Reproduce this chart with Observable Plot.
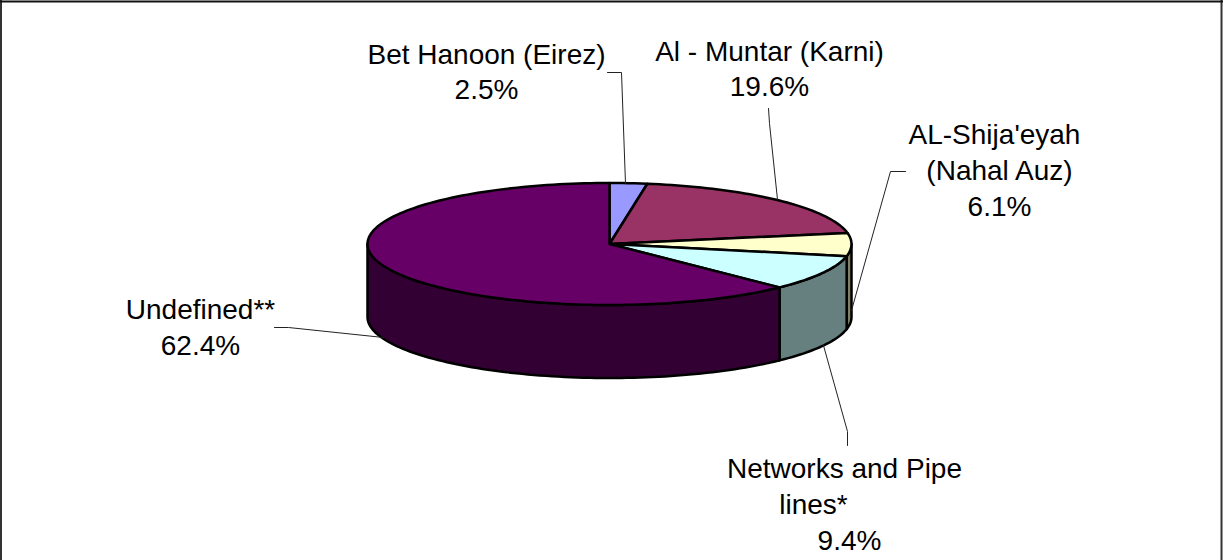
<!DOCTYPE html>
<html>
<head>
<meta charset="utf-8">
<script src="https://cdn.jsdelivr.net/npm/d3@7"></script>
<script src="https://cdn.jsdelivr.net/npm/@observablehq/plot@0.6"></script>
<style>html,body{margin:0;padding:0;background:#fff}svg{display:block}</style>
</head>
<body>
<div id="chart"></div>
<script>
// Data (clockwise from 12 o'clock)
const sliceNames = ["Bet Hanoon (Eirez)", "Al - Muntar (Karni)", "AL-Shija'eyah (Nahal Auz)", "Networks and Pipe lines*", "Undefined**"];
const sliceValues = [2.5, 19.6, 6.1, 9.4, 62.4];
const topColors = ["#9999FF", "#993366", "#FFFFCC", "#CCFFFF", "#660066"];
const sideColors = ["#4D4D80", "#4D1A33", "#808066", "#668080", "#330033"];

// Label text lines, one per row; the percentage rows are formatted from sliceValues
const fmt = v => d3.format(".1f")(v) + "%";
const labelLines = ["Bet Hanoon (Eirez)", fmt(sliceValues[0]), "Al - Muntar (Karni)", fmt(sliceValues[1]), "AL-Shija'eyah", "(Nahal Auz)", fmt(sliceValues[2]), "Networks and Pipe", "lines*", fmt(sliceValues[3]), "Undefined**", fmt(sliceValues[4])];
const labelX = [486, 486, 769, 769, 994, 999, 999, 844, 813, 849, 200, 200];
const labelY = [55, 90, 52, 87, 135, 171, 207, 469, 505, 541, 310, 346];

// Leader lines
const leaderIds = [0,0,0, 1,1,1, 2,2,2, 3,3,3, 4,4,4];
const leaderX = [607,621,625, 768,769,777, 905,890,851, 823,847,847, 274,288,383];
const leaderY = [72,72,183, 108,123,199, 171,171,310, 345,431,445, 327,327,337];

// Pie layout
const cx = 609, cy = 243.5, rx = 242, ry = 61, depth = 73;
const W = 1223, H = 560;

const rad = d => d * Math.PI / 180;
const total = d3.sum(sliceValues);
let acc = 0;
const slices = sliceValues.map((v, i) => {
  const a0 = acc / total * 360; acc += v; const a1 = acc / total * 360;
  return {i, a0, a1};
});
const pt = (a, dy = 0) => ({x: cx + rx * Math.sin(rad(a)), y: cy - ry * Math.cos(rad(a)) + dy});
const arc = (a0, a1, dy = 0) => {
  const n = Math.max(2, Math.ceil((a1 - a0) / 1.5)), out = [];
  for (let k = 0; k <= n; k++) out.push(pt(a0 + (a1 - a0) * k / n, dy));
  return out;
};

const shape = (pts, fill) => Plot.line(pts, {x: "x", y: "y", fill, stroke: "#000", strokeWidth: 2.5, strokeLinejoin: "round"});

const sideMarks = slices
  .filter(s => s.a1 > 90 && s.a0 < 270)
  .map(s => {
    const a0 = Math.max(s.a0, 90), a1 = Math.min(s.a1, 270);
    const top = arc(a0, a1), bot = arc(a0, a1, depth).reverse();
    return shape([...top, ...bot, top[0]], sideColors[s.i]);
  });
const topMarks = slices.map(s => {
  const c = {x: cx, y: cy};
  return shape([c, ...arc(s.a0, s.a1), c], topColors[s.i]);
});

const leaders = leaderIds.map((id, i) => ({id, x: leaderX[i], y: leaderY[i]}));
const labels = labelLines.map((t, i) => ({t, x: labelX[i], y: labelY[i]}));

const chart = Plot.plot({
  width: W, height: H,
  margin: 0,
  x: {domain: [0, W], range: [0, W], axis: null},
  y: {domain: [0, H], range: [0, H], axis: null},
  style: {background: "#fff"},
  marks: [
    Plot.ruleX([0.5, 1221], {stroke: "#333", strokeWidth: 2}),
    Plot.ruleY([1], {stroke: "#111", strokeWidth: 2}),
    ...sideMarks,
    ...topMarks,
    Plot.line(leaders, {x: "x", y: "y", z: "id", stroke: "#222", strokeWidth: 1, curve: "linear"}),
    Plot.text(labels, {x: "x", y: "y", text: "t", fontFamily: "Liberation Sans, Arial, sans-serif", fontSize: 28, fill: "#000", textAnchor: "middle", lineAnchor: "middle"})
  ]
});
document.getElementById("chart").append(chart);
</script>
</body>
</html>
